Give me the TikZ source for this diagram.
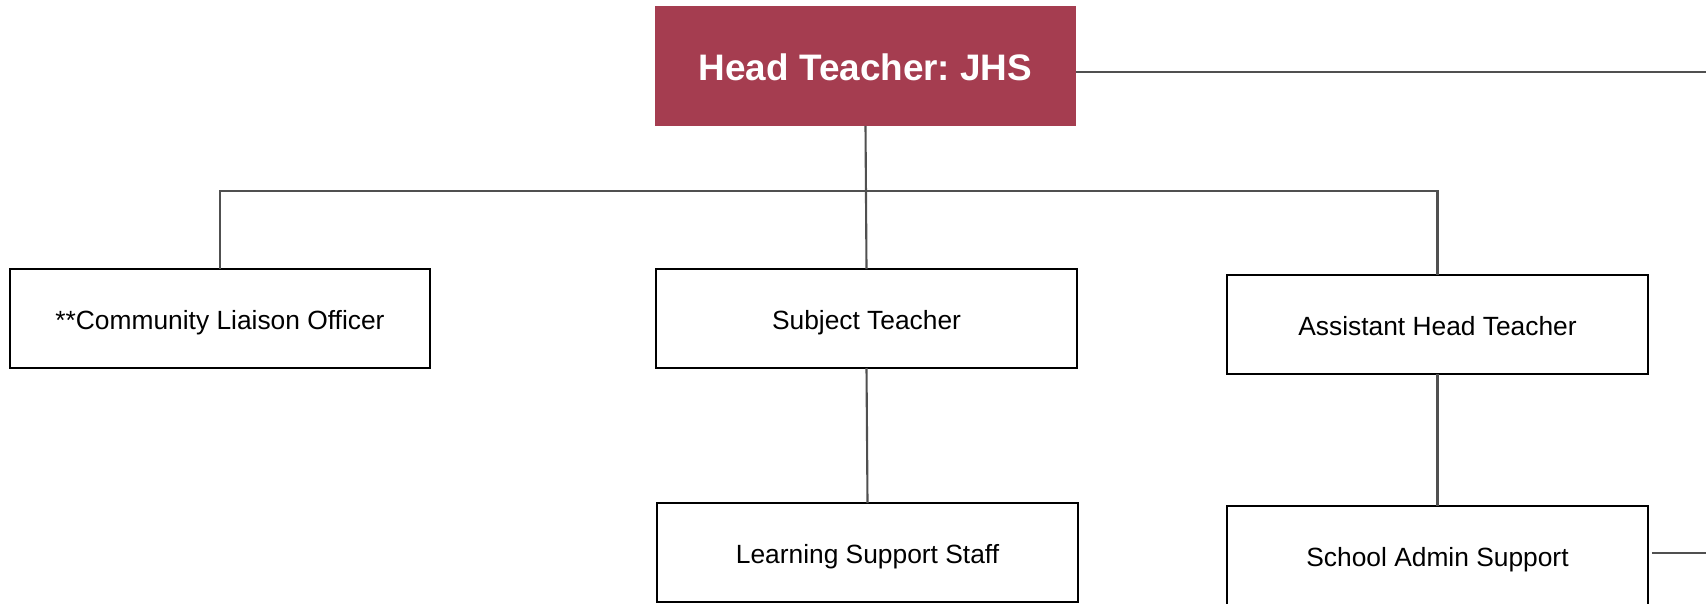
\documentclass[tikz,border=0pt]{standalone}
\usepackage{fontspec}
\setmainfont{Liberation Sans}
\frenchspacing
\usepackage{tikz}
\usetikzlibrary{positioning}
\definecolor{headred}{RGB}{165,61,80}
\definecolor{linkgray}{RGB}{80,80,80}

\begin{document}
\begin{tikzpicture}[
    x=0.02cm, y=-0.02cm,
    head/.style={rectangle, fill=headred, text=white, minimum width=8.42cm, minimum height=2.4cm, outer sep=0pt, text height=16pt, text depth=0pt, font=\fontsize{21}{25}\selectfont\bfseries},
    role/.style={rectangle, draw=black, line width=1.1pt, fill=white, minimum width=8.42cm, minimum height=1.98cm, outer sep=0pt, text height=13pt, text depth=0pt, font=\fontsize{15}{18}\selectfont},
    link/.style={draw=linkgray, line width=1.2pt}
]
    \useasboundingbox (0,0) rectangle (1706,603);
    \clip (0,0) rectangle (1706,603);

    % Head
    \node[head] (head) at (865.5, 66) {Head Teacher: JHS};

    % First row
    \node[role] (liaison) at (220, 318.5) {**Community Liaison Officer};
    \node[role] (subject) at (866.5, 318.5) {Subject Teacher};
    \node[role] (assistant) at (1437.5, 324.5) {Assistant Head Teacher};

    % Second row
    \node[role] (support) at (867.5, 552.5) {Learning Support Staff};
    \node[role] (admin) at (1437.5, 555.5) {School Admin Support};

    % Bus and free ends
    \coordinate (bus) at (865, 191);
    \coordinate (headout) at (1706, 71.7);
    \coordinate (adminout) at (1706, 553);

    % Connectors
    \draw[link] (head.south) -- (subject.north);
    \draw[link] (liaison.north) |- (bus) -| (assistant.north);
    \draw[link] (subject.south) -- (support.north);
    \draw[link] (assistant.south) -- (admin.north);
    \draw[link] (head.east |- headout) -- (headout);
    \draw[link] ([xshift=0.08cm]admin.east |- adminout) -- (adminout);
\end{tikzpicture}
\end{document}
